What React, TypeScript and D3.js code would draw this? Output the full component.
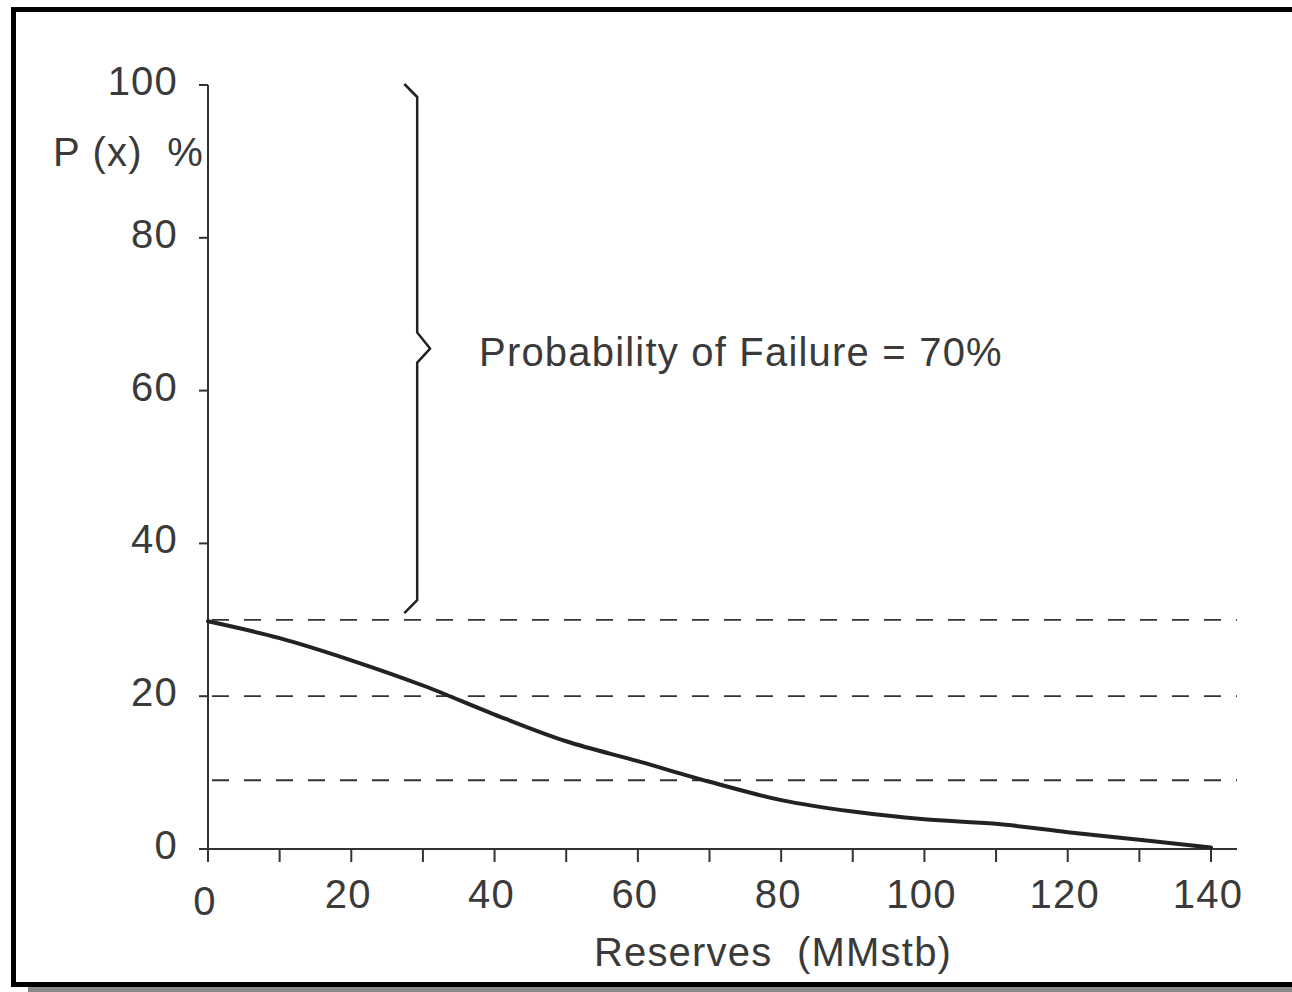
import * as React from "react";
import * as d3 from "d3";

// values
const reserves: number[] = [0, 10, 20, 30, 40, 50, 60, 70, 80, 90, 100, 110, 120, 130, 140];
const probability: number[] = [29.8, 27.6, 24.7, 21.4, 17.6, 14.1, 11.5, 8.8, 6.4, 4.9, 3.9, 3.3, 2.2, 1.2, 0.2];
const dashedLevels: number[] = [30, 20, 9];
const xTickValues: number[] = d3.range(0, 141, 10);
const xTickLabels: number[] = [0, 20, 40, 60, 80, 100, 120, 140];
const yTickLabels: number[] = [0, 20, 40, 60, 80, 100];
// brace spanning the failure part (in data units)
const braceX = 29.2;
const braceTop = 100;
const braceBottom = 31;
const braceMid = 65.5;
const braceLabel = "Probability of Failure = 70%";

const W = 1292;
const H = 992;
const x = d3.scaleLinear().domain([0, 140]).range([208, 1211]);
const y = d3.scaleLinear().domain([0, 100]).range([849, 85]);

const font = "'Liberation Sans', Arial, Helvetica, sans-serif";
const ink = "#333";
const textInk = "#3a3a3a";

export default function App() {
  const curve = d3
    .line<number>()
    .x((d, i) => x(reserves[i]))
    .y(d => y(d))
    .curve(d3.curveMonotoneX)(probability);

  const bx = x(braceX);
  const hook = x(braceX) - x(braceX - 1.8);
  const nose = x(braceX + 1.8) - bx;
  const brace = [
    [bx - hook, y(braceTop) - 1],
    [bx, y(braceTop) + 12],
    [bx, y(braceMid) - 16],
    [bx + nose, y(braceMid)],
    [bx, y(braceMid) + 14],
    [bx, y(braceBottom) - 12],
    [bx - hook, y(braceBottom) + 1]
  ];

  return (
    <div style={{ position: "absolute", left: 0, top: 0 }}>
      <svg width={W} height={H} style={{ display: "block", background: "#fff" }}>
        {/* frame */}
        <rect x={28} y={987} width={W} height={5} fill="#8a8a8a" />
        <rect x={13.5} y={9.5} width={W} height={975} fill="none" stroke="#000" strokeWidth={5} />

        {/* dashed reference levels */}
        {dashedLevels.map(v => (
          <line
            key={v}
            x1={x(0) + 4}
            x2={1237}
            y1={y(v)}
            y2={y(v)}
            stroke="#333"
            strokeWidth={1.8}
            strokeDasharray="17 15"
          />
        ))}

        {/* axes */}
        <line x1={x(0)} x2={x(0)} y1={y(100)} y2={862} stroke={ink} strokeWidth={2} />
        <line x1={200} x2={1237} y1={y(0)} y2={y(0)} stroke={ink} strokeWidth={2} />
        {xTickValues.map(v => (
          <line key={v} x1={x(v)} x2={x(v)} y1={y(0)} y2={862} stroke={ink} strokeWidth={2} />
        ))}
        {yTickLabels.map(v => (
          <line key={v} x1={199} x2={x(0)} y1={y(v)} y2={y(v)} stroke={ink} strokeWidth={2} />
        ))}

        <g fontFamily={font} fontSize={40} fill={textInk} letterSpacing={1.2}>
          {yTickLabels.map(v => (
            <text key={v} x={178} y={y(v) + 10} textAnchor="end">
              {v}
            </text>
          ))}
          {xTickLabels.map(v => (
            <text key={v} x={x(v) - 3} y={v === 0 ? 915 : 908} textAnchor="middle">
              {v}
            </text>
          ))}
          <text x={53} y={166} xmlSpace="preserve">
            {"P (x)  %"}
          </text>
          <text x={773} y={966} textAnchor="middle" xmlSpace="preserve">
            {"Reserves  (MMstb)"}
          </text>
          <text x={479} y={366}>
            {braceLabel}
          </text>
        </g>

        {/* brace */}
        <path
          d={d3.line()(brace as [number, number][]) || ""}
          fill="none"
          stroke="#222"
          strokeWidth={2.5}
          strokeLinejoin="round"
        />

        {/* cumulative probability curve */}
        <path d={curve || ""} fill="none" stroke="#222" strokeWidth={4} strokeLinecap="round" />
      </svg>
    </div>
  );
}
